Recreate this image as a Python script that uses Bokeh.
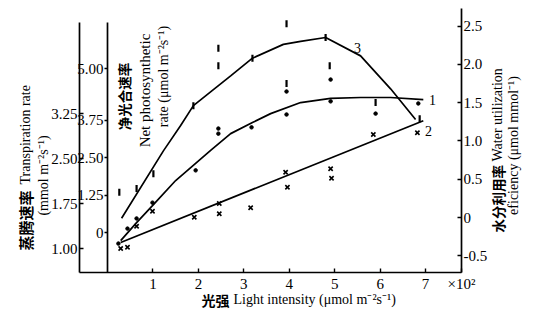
import math
from bokeh.plotting import figure
from bokeh.models import Range1d, LinearAxis, FixedTicker
from bokeh.core.properties import value
from bokeh.embed import file_html
from bokeh.resources import INLINE

# ---------------- data ----------------
# light intensity, x 10^2 umol m-2 s-1 (last tick carries the multiplier)
LIGHT_TICKS = [1, 2, 3, 4, 5, 6, 7, 7.79]
LIGHT_TICK_LABELS = ["1", "2", "3", "4", "5", "6", "7", "×10²"]

# curve 1 : net photosynthetic rate (fitted curve + observations)
pn_curve_x = [0.29, 0.64, 0.99, 1.50, 2.27, 2.71, 3.19, 3.59, 4.25, 4.91, 5.57, 6.23, 6.95]
pn_curve_y = [-0.27, 0.33, 0.90, 1.74, 2.75, 3.31, 3.68, 3.98, 4.35, 4.49, 4.52, 4.52, 4.45]
pn_obs_x = [0.24, 0.44, 0.64, 0.99, 1.94, 2.44, 2.44, 3.17, 3.94, 3.94, 4.91, 4.91, 5.90, 6.84]
pn_obs_y = [-0.37, 0.13, 0.47, 1.00, 2.08, 3.48, 3.31, 3.52, 4.72, 3.95, 5.12, 4.39, 3.98, 4.32]

# curve 2 : transpiration rate (fitted line + observations)
tr_line_x = [0.29, 6.95]
tr_line_y = [1.10, 3.13]
tr_obs_x = [0.29, 0.44, 0.64, 0.99, 1.91, 2.46, 2.46, 3.15, 3.92, 3.96, 4.91, 4.93, 5.85, 6.82]
tr_obs_y = [1.00, 1.02, 1.37, 1.62, 1.52, 1.75, 1.58, 1.68, 2.27, 2.02, 2.33, 2.17, 2.90, 2.93]

# curve 3 : water utilization efficiency (fitted curve + observations)
wue_curve_x = [0.31, 1.23, 1.61, 1.89, 2.31, 2.71, 3.19, 3.87, 4.25, 4.80, 5.57, 6.23, 6.78]
wue_curve_y = [-0.01, 0.87, 1.20, 1.46, 1.66, 1.85, 2.08, 2.26, 2.30, 2.35, 2.11, 1.68, 1.28]
wue_obs_x = [0.26, 0.64, 1.01, 1.89, 2.44, 2.44, 3.19, 3.94, 3.94, 4.80, 4.89, 5.90, 6.87]
wue_obs_y = [0.33, 0.38, 0.57, 1.46, 2.21, 1.98, 2.08, 2.53, 1.75, 2.35, 1.98, 1.50, 1.29]

# curve numbers
curve_ids = ["3", "1", "2"]

# axis ticks
PN_TICKS = [0, 1.25, 2.5, 3.75, 5.49]
PN_TICK_LABELS = ["0", "1.25", "2.50", "3.75", "5.00"]
TR_TICKS = [1.0, 1.75, 2.5, 3.25]
TR_TICK_LABELS = ["1.00", "1.75", "2.50", "3.25"]
WUE_TICKS = [-0.5, 0, 0.5, 1.0, 1.5, 2.0, 2.5]
WUE_TICK_LABELS = ["-0.5", "0", "0.5", "1.0", "1.5", "2.0", "2.5"]

# ---------------- page geometry (pixels of the canvas) ----------------
W, H = 540, 312
FONT = "Liberation Serif"
CJK = "Noto Sans CJK SC"
INK = "black"


# pixel -> value for the four scales (each axis' own scale)
def xd(px):
    return (px - 107.0) / 45.44


def pd(py):
    return (232.0 - py) / 29.87


def td(py):
    return 0.6 + (272.0 - py) / 60.0


def wd(py):
    return (217.0 - py) / 76.6


X_LEFT, X_RIGHT = xd(79), xd(461)      # outer-left / right axis positions
Y_BOTTOM, Y_TOP_L, Y_TOP_R = 272, 22, 8

p = figure(width=W, height=H, output_backend="svg", toolbar_location=None,
           x_range=Range1d(xd(0), xd(W)), y_range=Range1d(pd(H), pd(0)),
           min_border=0, min_border_left=0, min_border_right=0,
           min_border_top=0, min_border_bottom=0)
p.extra_y_ranges = {"T": Range1d(td(H), td(0)), "W": Range1d(wd(H), wd(0))}
p.outline_line_color = None
p.xgrid.visible = False
p.ygrid.visible = False
p.background_fill_color = "white"
p.border_fill_color = "white"


def style_axis(ax, color=INK):
    ax.axis_label = None
    ax.axis_line_color = color
    ax.axis_line_width = 1.7
    ax.major_tick_line_color = color
    ax.major_tick_line_width = 1.4
    ax.minor_tick_line_color = None
    ax.minor_tick_out = 0
    ax.minor_tick_in = 0
    ax.major_label_text_font = FONT
    ax.major_label_text_font_size = "15px"
    ax.major_label_text_color = color


# x axis (bottom)
xax = p.xaxis[0]
style_axis(xax)
xax.fixed_location = pd(Y_BOTTOM)
xax.bounds = (X_LEFT, X_RIGHT)
xax.ticker = FixedTicker(ticks=LIGHT_TICKS)
xax.major_label_overrides = dict(zip(LIGHT_TICKS, LIGHT_TICK_LABELS))
xax.major_tick_in = 4
xax.major_tick_out = 0
xax.major_label_standoff = 3

# inner left axis: net photosynthetic rate (at light = 0)
pax = p.left[0]
style_axis(pax)
pax.fixed_location = 0
pax.bounds = (pd(Y_BOTTOM), pd(Y_TOP_L))
pax.ticker = FixedTicker(ticks=PN_TICKS)
pax.major_label_overrides = dict(zip(PN_TICKS, PN_TICK_LABELS))
pax.major_tick_in = 0
pax.major_tick_out = 3
pax.major_label_standoff = 1

# outer left axis: transpiration rate
tax = LinearAxis(y_range_name="T")
style_axis(tax)
tax.fixed_location = X_LEFT
tax.bounds = (td(Y_BOTTOM), td(Y_TOP_L))
tax.ticker = FixedTicker(ticks=TR_TICKS)
tax.major_label_overrides = dict(zip(TR_TICKS, TR_TICK_LABELS))
tax.major_tick_in = 4
tax.major_tick_out = 0
tax.major_label_standoff = 2
p.add_layout(tax, "left")

# right axis: water utilization efficiency
wax = LinearAxis(y_range_name="W")
style_axis(wax)
wax.fixed_location = X_RIGHT
wax.bounds = (wd(Y_BOTTOM), wd(Y_TOP_R))
wax.ticker = FixedTicker(ticks=WUE_TICKS)
wax.major_label_overrides = dict(zip(WUE_TICKS, WUE_TICK_LABELS))
wax.major_tick_in = 4
wax.major_tick_out = 0
wax.major_label_standoff = 2
p.add_layout(wax, "right")

# ---------------- curves and observations ----------------
p.line(pn_curve_x, pn_curve_y, line_color=INK, line_width=1.7)
p.line(tr_line_x, tr_line_y, line_color=INK, line_width=1.7, y_range_name="T")
p.line(wue_curve_x, wue_curve_y, line_color=INK, line_width=1.7, y_range_name="W")

p.scatter(pn_obs_x, pn_obs_y, marker="circle", size=3.5, fill_color=INK, line_color=INK)
p.scatter(tr_obs_x, tr_obs_y, marker="x", size=6, line_color=INK, line_width=1.6,
          y_range_name="T")
p.scatter(wue_obs_x, wue_obs_y, marker="dash", angle=math.pi / 2, size=7,
          line_color=INK, line_width=2.2, y_range_name="W")

# curve numbers, placed beside the curve ends
p.text(x=[xd(357), xd(432), xd(428)], y=[pd(47), pd(99), pd(130)], text=curve_ids,
       text_font=value(FONT), text_font_size="14px", text_color=INK,
       text_align="center", text_baseline="middle")


# ---------------- titles ----------------
def txt(px, py, s, font=FONT, size="14px", align="center", vertical=True, style="normal"):
    p.text(x=[xd(px)], y=[pd(py)], text=[s], angle=math.pi / 2 if vertical else 0,
           text_font=value(font), text_font_size=size, text_font_style=style,
           text_color=INK, text_align=align, text_baseline="middle")


# left (transpiration)
txt(25, 250, "蒸腾速率", font=CJK, size="15px", align="left", style="bold")
txt(25, 184, "Transpiration rate", align="left")
txt(43, 175, "(mmol m⁻²s⁻¹)")
# inner (net photosynthesis)
txt(123, 96, "净光合速率", font=CJK, size="13.5px", style="bold")
txt(144, 90, "Net photosynthetic", size="15px")
txt(163, 76, "rate (μmol m⁻²s⁻¹)")
# right (water utilization efficiency)
txt(497, 232, "水分利用率", font=CJK, size="13.5px", align="left", style="bold")
txt(497, 161, "Water utilization", align="left")
txt(513, 145, "eficiency (μmol mmol⁻¹)")
# bottom (light intensity)
txt(229, 299, "光强", font=CJK, size="14px", align="right", vertical=False, style="bold")
txt(233, 299, "Light intensity (μmol m⁻²s⁻¹)", align="left", vertical=False)

open("out.html", "w").write(file_html(p, INLINE))
